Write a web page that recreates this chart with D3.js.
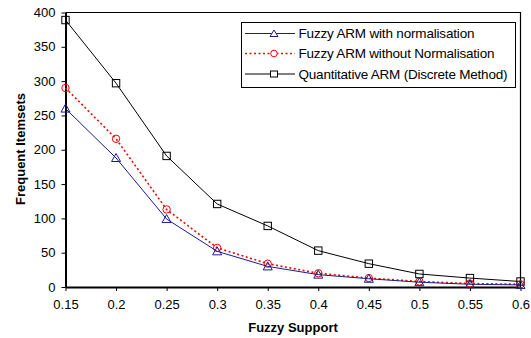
<!DOCTYPE html>
<html><head><meta charset="utf-8">
<script src="https://cdn.jsdelivr.net/npm/d3@7"></script>
<style>body{margin:0;background:#fff}svg{display:block}text{font-family:"Liberation Sans",Arial,sans-serif}</style>
</head><body><svg id="c" width="531" height="338"></svg>
<script>
const support = [0.15,0.2,0.25,0.3,0.35,0.4,0.45,0.5,0.55,0.6];
const withNorm = [260,188,99,52,30,18,12,7,4,3];
const withoutNorm = [290,216,113,57,34,20,13,8,5,4];
const quantitative = [389,297,191,121,89,53,34,19,13,8];
const yTicks = [0,50,100,150,200,250,300,350,400];
const xTickLabels = ["0.15","0.2","0.25","0.3","0.35","0.4","0.45","0.5","0.55","0.6"];
const seriesNames = ["Fuzzy ARM with normalisation","Fuzzy ARM without Normalisation","Quantitative ARM (Discrete Method)"];

const svg = d3.select("#c");
const L=65.5, R=520.5, T=12.5, B=287;
const x = d3.scaleLinear().domain([0.15,0.6]).range([L,R]);
const y = d3.scaleLinear().domain([0,400]).range([B,T]);

svg.append("path").attr("d",`M${L},${T}H${R}V${B}`).attr("fill","none").attr("stroke","#000").attr("stroke-width",1.2);

const ya = svg.append("g").attr("transform",`translate(${L},0)`)
  .call(d3.axisLeft(y).tickValues(yTicks).tickSize(4).tickSizeOuter(0));
const xa = svg.append("g").attr("transform",`translate(0,${B})`)
  .call(d3.axisBottom(x).tickValues(support).tickFormat((d,i)=>xTickLabels[i]).tickSize(4).tickSizeOuter(0));
[ya,xa].forEach(g=>{
  g.select(".domain").attr("stroke","#000").attr("stroke-width",2);
  g.selectAll(".tick line").attr("stroke","#000");
  g.selectAll("text").attr("font-size",13).attr("fill","#000").style("font-family","Liberation Sans, Arial, sans-serif");
});
ya.selectAll("text").attr("x",-10);
xa.selectAll("text").attr("y",13);

svg.append("text").attr("x",293).attr("y",332).attr("text-anchor","middle")
  .attr("font-size",13).attr("font-weight","bold").text("Fuzzy Support");
svg.append("text").attr("transform",`translate(25,149) rotate(-90)`).attr("text-anchor","middle")
  .attr("font-size",13).attr("font-weight","bold").text("Frequent Itemsets");

const series = [
  {vals:withNorm, color:"#1c1c8a", dash:null, marker:"tri"},
  {vals:withoutNorm, color:"#ff0000", dash:"2,2.5", marker:"circ"},
  {vals:quantitative, color:"#000", dash:null, marker:"sq"}
];
function marker(g, m, color, cx, cy){
  if(m==="tri"){
    g.append("path").attr("d",`M${cx},${cy-4.5}L${cx+4.5},${cy+3.5}L${cx-4.5},${cy+3.5}Z`).attr("fill","none").attr("stroke",color).attr("stroke-width",1);
  } else if(m==="circ"){
    g.append("circle").attr("cx",cx).attr("cy",cy).attr("r",3.7).attr("fill","none").attr("stroke",color).attr("stroke-width",1);
  } else {
    g.append("rect").attr("x",cx-3.7).attr("y",cy-3.7).attr("width",7.4).attr("height",7.4).attr("fill","none").attr("stroke",color).attr("stroke-width",1);
  }
}
const line = d3.line().x((d,i)=>x(support[i])).y(d=>y(d));
[2,1,0].forEach(k=>{
  const s = series[k];
  const g = svg.append("g");
  g.append("path").datum(s.vals).attr("d",line).attr("fill","none").attr("stroke",s.color)
    .attr("stroke-width",k===1?1.6:1).attr("stroke-dasharray",s.dash);
  s.vals.forEach((v,i)=>marker(g,s.marker,s.color,x(support[i]),y(v)));
});

const lg = svg.append("g");
lg.append("rect").attr("x",241.5).attr("y",22.5).attr("width",274).attr("height",65).attr("fill","#fff").attr("stroke","#000").attr("stroke-width",1);
const rows=[33.5,53.5,74];
const textWidths=[176,196,209];
series.forEach((s,i)=>{
  lg.append("line").attr("x1",245).attr("x2",295).attr("y1",rows[i]).attr("y2",rows[i]).attr("stroke",s.color)
    .attr("stroke-width",i===1?1.4:1).attr("stroke-dasharray",s.dash);
  if(s.marker==="tri") lg.append("path").attr("d",`M274,${rows[i]-3.5}L278,${rows[i]+3}L270,${rows[i]+3}Z`).attr("fill","#fff").attr("stroke",s.color);
  else if(s.marker==="circ") lg.append("circle").attr("cx",274).attr("cy",rows[i]).attr("r",3.3).attr("fill","#fff").attr("stroke",s.color);
  else lg.append("rect").attr("x",270.5).attr("y",rows[i]-3).attr("width",7).attr("height",6).attr("fill","#fff").attr("stroke",s.color);
  lg.append("text").attr("x",298.5).attr("y",rows[i]+4.8).attr("font-size",13.5)
    .attr("textLength",textWidths[i]).attr("lengthAdjust","spacing").text(seriesNames[i]);
});
</script></body></html>
